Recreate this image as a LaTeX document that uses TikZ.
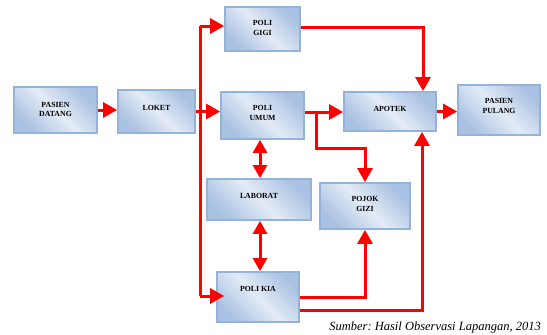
\documentclass[tikz,border=0pt]{standalone}
\usepackage{fontspec}
\setmainfont{Liberation Serif}
\usetikzlibrary{arrows.meta,calc}
\frenchspacing
\definecolor{bdark}{HTML}{A9C1E2}
\definecolor{blight}{HTML}{E3EBF6}
\definecolor{bline}{HTML}{95B3D7}
\definecolor{ared}{HTML}{FF0000}
\tikzset{
  box/.style={draw=bline, line width=1.8pt, rectangle, inner sep=0pt,
    left color=bdark, right color=bdark, middle color=blight, shading angle=135},
  lbl/.style={font=\fontsize{7.8}{9.5}\selectfont\bfseries, align=center, inner sep=0pt},
  line/.style={draw=ared, line width=3pt},
  arr/.style={line, -{Triangle[length=14pt,width=15pt]}},
  darr/.style={line, {Triangle[length=13pt,width=14pt]}-{Triangle[length=13pt,width=14pt]}}
}
\begin{document}
\begin{tikzpicture}[x=1pt,y=-1pt]
\useasboundingbox (0,0) rectangle (547,335);
% boxes
\node[box, minimum width=83pt, minimum height=46pt] (pd) at (55.5,110) {};
\node[box, minimum width=77pt, minimum height=43pt] (loket) at (156.5,111.5) {};
\node[box, minimum width=75pt, minimum height=44pt] (gigi) at (262.5,29) {};
\node[box, minimum width=83pt, minimum height=47pt] (umum) at (262.5,115.5) {};
\node[box, minimum width=92pt, minimum height=39pt] (apotek) at (390,111.5) {};
\node[box, minimum width=82pt, minimum height=50pt] (pulang) at (499,110) {};
\node[box, minimum width=104pt, minimum height=41pt] (lab) at (259,199.5) {};
\node[box, minimum width=90pt, minimum height=46pt] (gizi) at (365,206) {};
\node[box, minimum width=82pt, minimum height=50pt] (kia) at (258,297) {};
% labels
\node[lbl] (tpd) at (55.5,109.5) {PASIEN\\DATANG};
\node[lbl] (tloket) at (156.5,107.5) {LOKET};
\node[lbl] (tgigi) at (262.5,28) {POLI\\GIGI};
\node[lbl] (tumum) at (262.5,113) {POLI\\UMUM};
\node[lbl] (tapotek) at (390,108.5) {APOTEK};
\node[lbl] (tpulang) at (499,106) {PASIEN\\PULANG};
\node[lbl] (tlab) at (259,196) {LABORAT};
\node[lbl] (tgizi) at (365,204) {POJOK\\GIZI};
\node[lbl] (tkia) at (258,289) {POLI KIA};
% connectors
\coordinate (tTop) at (200,26);
\coordinate (tBot) at (200,296);
\coordinate (br) at (316,112);
\coordinate (bk) at (365,148);
\draw[arr] (pd.east) -- (pd.east -| loket.west);
\draw[arr] (loket.east) -- (loket.east -| umum.west);
\draw[line] (tTop) -- (tBot);
\draw[arr] (tTop) -- (tTop -| gigi.west);
\draw[arr] (tBot) -- ([xshift=8pt]tBot -| kia.west);
\draw[arr] ([yshift=2pt]gigi.east) -| ([xshift=33pt]apotek.north);
\draw[arr] ([yshift=3.5pt]umum.east) -- ([yshift=3.5pt]umum.east -| apotek.west);
\draw[arr] (br) |- (bk) -- (gizi.north);
\draw[darr] ([xshift=-2.5pt]umum.south) -- ([xshift=-2.5pt]umum.south |- lab.north);
\draw[darr] ([xshift=1pt]lab.south) -- ([xshift=1pt]lab.south |- kia.north);
\draw[arr] (kia.east) -| (gizi.south);
\draw[arr] ([yshift=-13pt]kia.east) -| ([xshift=32pt]apotek.south);
\draw[arr] (apotek.east) -- (apotek.east -| pulang.west);
% caption
\node[anchor=base east, inner sep=0pt, font=\fontsize{12.5}{14}\selectfont\itshape] (cap) at (541,330) {Sumber: Hasil Observasi Lapangan, 2013};
\end{tikzpicture}
\end{document}
